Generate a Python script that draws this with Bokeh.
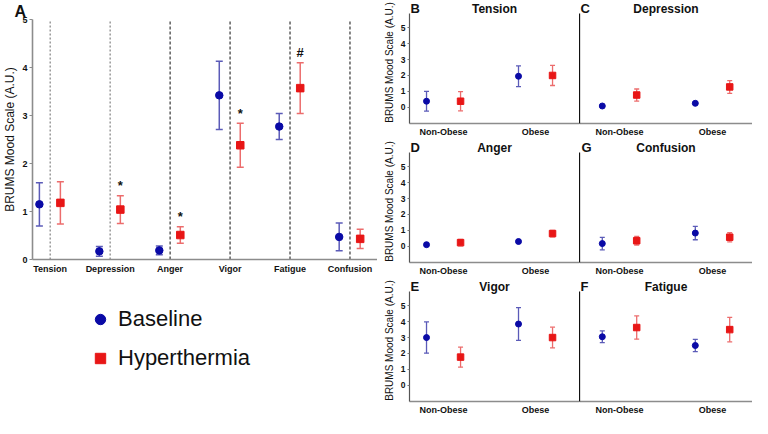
import numpy as np
from bokeh.plotting import figure
from bokeh.models import (ColumnDataSource, Whisker, TeeHead, FixedTicker, Label,
                          Legend, LegendItem, Range1d, Title)
from bokeh.layouts import row, column
from bokeh.embed import file_html
from bokeh.resources import INLINE
from bokeh.core.properties import value

FONT = "Liberation Sans"
BLUE = "#0A0AA6"
BLUE_BAR = "#5B5BB8"
RED = "#E81616"
RED_BAR = "#EC6C6C"

# ---------------- Panel A data ----------------
categories = ["Tension", "Depression", "Anger", "Vigor", "Fatigue", "Confusion"]
a_base_mean = [1.15, 0.17, 0.19, 3.42, 2.77, 0.47]
a_base_err = [0.45, 0.10, 0.09, 0.71, 0.27, 0.29]
a_hyp_mean = [1.18, 1.04, 0.51, 2.38, 3.57, 0.43]
a_hyp_err = [0.44, 0.29, 0.17, 0.46, 0.53, 0.20]
a_marks = ["", "*", "*", "*", "#", ""]
series_names = ["Baseline", "Hyperthermia"]

# ---------------- Panels B-G data ----------------
groups = ["Non-Obese", "Obese"]
tension_base = [0.38, 1.95]
tension_base_err = [0.62, 0.65]
tension_hyp = [0.38, 2.00]
tension_hyp_err = [0.60, 0.63]

depression_base = [0.08, 0.25]
depression_base_err = [0.05, 0.07]
depression_hyp = [0.77, 1.28]
depression_hyp_err = [0.38, 0.40]

anger_base = [0.10, 0.30]
anger_base_err = [0.10, 0.12]
anger_hyp = [0.23, 0.80]
anger_hyp_err = [0.20, 0.20]

confusion_base = [0.17, 0.83]
confusion_base_err = [0.39, 0.42]
confusion_hyp = [0.35, 0.57]
confusion_hyp_err = [0.27, 0.29]

vigor_base = [3.00, 3.85]
vigor_base_err = [0.98, 1.03]
vigor_hyp = [1.77, 3.00]
vigor_hyp_err = [0.63, 0.65]

fatigue_base = [3.05, 2.50]
fatigue_base_err = [0.37, 0.38]
fatigue_hyp = [3.63, 3.50]
fatigue_hyp_err = [0.73, 0.77]

yticks = [0, 1, 2, 3, 4, 5]
y_label = "BRUMS Mood Scale (A.U.)"


def add_series(p, xs, mean, err, marker, color, bar_color, size, cap, lw):
    mean = np.array(mean, dtype=float)
    err = np.array(err, dtype=float)
    src = ColumnDataSource(dict(x=xs, y=mean, lo=mean - err, hi=mean + err))
    w = Whisker(source=src, base="x", lower="lo", upper="hi", dimension="height",
                line_color=bar_color, line_width=lw, level="underlay",
                upper_head=TeeHead(size=cap, line_color=bar_color, line_width=lw),
                lower_head=TeeHead(size=cap, line_color=bar_color, line_width=lw))
    p.add_layout(w)
    r = p.scatter("x", "y", source=src, marker=marker, size=size,
                  fill_color=color, line_color=color)
    return r


def style_x(ax):
    ax.major_tick_out = 0
    ax.major_tick_in = 0
    ax.minor_tick_out = 0
    ax.axis_line_color = "#8c8c8c"
    ax.axis_line_width = 1.6
    ax.major_label_text_font = FONT
    ax.major_label_text_font_size = "9px"
    ax.major_label_text_font_style = "bold"
    ax.major_label_text_color = "#111111"


# ---------------- Figure A ----------------
pa = figure(width=377, height=285, x_range=Range1d(-0.295, 5.459), y_range=Range1d(0, 5),
            min_border_left=26, min_border_right=0, min_border_top=19, min_border_bottom=26,
            output_backend="svg", toolbar_location=None)
pa.grid.visible = False
pa.outline_line_color = None
pa.background_fill_color = None
pa.title = Title(text="A", align="left", offset=-18, standoff=0, text_font=FONT,
                 text_font_size="16px", text_font_style="bold", text_color="#111111")

idx = np.arange(len(categories))
pa.segment(x0=idx[:2], y0=[0, 0], x1=idx[:2], y1=[5, 5], line_color="#8a8a8a",
           line_width=1.3, line_dash="2 2")
pa.segment(x0=idx[2:], y0=[0] * 4, x1=idx[2:], y1=[5] * 4, line_color="#222222",
           line_width=1.1, line_dash="3 2")

add_series(pa, idx - 0.18, a_base_mean, a_base_err, "circle", BLUE, BLUE_BAR, 7.5, 7, 1.5)
add_series(pa, idx + 0.17, a_hyp_mean, a_hyp_err, "square", RED, RED_BAR, 7.5, 7, 1.5)

mark_src = ColumnDataSource(dict(x=idx + 0.17, y=np.array(a_hyp_mean) + np.array(a_hyp_err),
                                 t=a_marks))
pa.text("x", "y", text="t", source=mark_src, text_font=value(FONT), text_font_size="13px",
        text_font_style="bold", text_align="center", text_baseline="middle",
        y_offset=-10, text_color="#111111")

pa.xaxis.ticker = FixedTicker(ticks=list(idx))
pa.xaxis.major_label_overrides = {int(i): c for i, c in zip(idx, categories)}
style_x(pa.xaxis)
pa.xaxis.major_label_standoff = 4

pa.yaxis.ticker = FixedTicker(ticks=yticks)
pa.yaxis.minor_tick_out = 0
pa.yaxis.major_tick_out = 3
pa.yaxis.major_tick_in = 0
pa.yaxis.major_tick_line_color = "#8c8c8c"
pa.yaxis.axis_line_color = "#8c8c8c"
pa.yaxis.axis_line_width = 1.6
pa.yaxis.major_label_standoff = 2
pa.yaxis.major_label_text_font = FONT
pa.yaxis.major_label_text_font_size = "9px"
pa.yaxis.major_label_text_font_style = "bold"
pa.yaxis.major_label_text_color = "#111111"
pa.yaxis.axis_label = y_label
pa.yaxis.axis_label_standoff = 2
pa.yaxis.axis_label_text_font = FONT
pa.yaxis.axis_label_text_font_size = "12px"
pa.yaxis.axis_label_text_font_style = "normal"
pa.yaxis.axis_label_text_color = "#111111"

# ---------------- Legend figure (below A) ----------------
# legend proxies carry the panel-A series but sit outside this figure's view range
pl = figure(width=377, height=133, x_range=Range1d(0, 1), y_range=Range1d(100, 101),
            x_axis_type=None, y_axis_type=None,
            min_border=0, output_backend="svg", toolbar_location=None)
pl.grid.visible = False
pl.outline_line_color = None
pl.background_fill_color = None
lb = pl.scatter(x=idx, y=a_base_mean, marker="circle", size=8, fill_color=BLUE, line_color=BLUE)
lh = pl.scatter(x=idx, y=a_hyp_mean, marker="square", size=8, fill_color=RED, line_color=RED)
legend = Legend(items=[LegendItem(label=series_names[0], renderers=[lb]),
                       LegendItem(label=series_names[1], renderers=[lh])],
                location=(55, 47), orientation="vertical",
                glyph_width=26, glyph_height=26, label_standoff=5, spacing=13,
                padding=0, margin=0, border_line_color=None, background_fill_alpha=0,
                label_text_font=FONT, label_text_font_size="22px",
                label_text_color="#111111", label_height=26)
pl.add_layout(legend, "center")


# ---------------- Panels B-G ----------------
def panel(title, letter, letter_x, base, base_err, hyp, hyp_err, left):
    if left:
        width, mbl, xr = 202, 32, Range1d(-0.37, 1.478)
    else:
        width, mbl, xr = 173, 0, Range1d(-0.43, 1.43)
    p = figure(width=width, height=139, x_range=xr, y_range=Range1d(-1.02, 6.65),
               min_border_left=mbl, min_border_right=0, min_border_top=1, min_border_bottom=15,
               output_backend="svg", toolbar_location=None)
    p.grid.visible = False
    p.outline_line_color = None
    p.background_fill_color = None
    gx = np.arange(len(groups))
    add_series(p, gx - 0.185, base, base_err, "circle", BLUE, BLUE_BAR, 6, 5, 1.3)
    add_series(p, gx + 0.185, hyp, hyp_err, "square", RED, RED_BAR, 6.5, 5, 1.3)

    p.xaxis.ticker = FixedTicker(ticks=list(gx))
    p.xaxis.major_label_overrides = {int(i): g for i, g in zip(gx, groups)}
    style_x(p.xaxis)
    p.xaxis.major_label_standoff = 3

    p.yaxis.bounds = (-1.02, 5.9)
    p.yaxis.minor_tick_out = 0
    p.yaxis.major_tick_in = 0
    if left:
        p.yaxis.ticker = FixedTicker(ticks=yticks)
        p.yaxis.major_tick_out = 2
        p.yaxis.major_tick_line_color = "#777777"
        p.yaxis.axis_line_color = "#555555"
        p.yaxis.axis_line_width = 1.2
        p.yaxis.major_label_standoff = 2
        p.yaxis.major_label_text_font = FONT
        p.yaxis.major_label_text_font_size = "8.5px"
        p.yaxis.major_label_text_font_style = "bold"
        p.yaxis.major_label_text_color = "#111111"
        p.yaxis.axis_label = y_label
        p.yaxis.axis_label_standoff = 3
        p.yaxis.axis_label_text_font = FONT
        p.yaxis.axis_label_text_font_size = "10px"
        p.yaxis.axis_label_text_font_style = "normal"
        p.yaxis.axis_label_text_color = "#111111"
    else:
        p.yaxis.ticker = FixedTicker(ticks=[])
        p.yaxis.major_tick_out = 0
        p.yaxis.major_label_standoff = 0
        p.yaxis.axis_line_color = "#111111"
        p.yaxis.axis_line_width = 1.3

    fw = width - mbl
    p.add_layout(Label(x=letter_x, y=115, x_units="screen", y_units="screen", text=letter,
                       text_font=FONT, text_font_size="13px", text_font_style="bold",
                       text_align="left", text_baseline="middle", text_color="#111111"))
    p.add_layout(Label(x=fw / 2, y=115, x_units="screen", y_units="screen", text=title,
                       text_font=FONT, text_font_size="12px", text_font_style="bold",
                       text_align="center", text_baseline="middle", text_color="#111111"))
    return p


pB = panel("Tension", "B", 1, tension_base, tension_base_err, tension_hyp, tension_hyp_err, True)
pC = panel("Depression", "C", 1, depression_base, depression_base_err, depression_hyp,
           depression_hyp_err, False)
pD = panel("Anger", "D", 1, anger_base, anger_base_err, anger_hyp, anger_hyp_err, True)
pG = panel("Confusion", "G", 2, confusion_base, confusion_base_err, confusion_hyp,
           confusion_hyp_err, False)
pE = panel("Vigor", "E", 1, vigor_base, vigor_base_err, vigor_hyp, vigor_hyp_err, True)
pF = panel("Fatigue", "F", 1, fatigue_base, fatigue_base_err, fatigue_hyp, fatigue_hyp_err, False)

layout = row(column(pa, pl), column(row(pB, pC), row(pD, pG), row(pE, pF)))

open("out.html", "w").write(file_html(layout, INLINE))
